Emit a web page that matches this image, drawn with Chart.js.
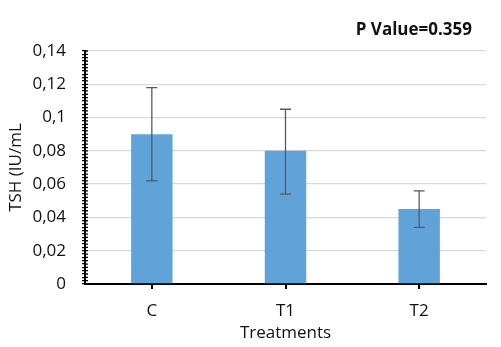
<!DOCTYPE html>
<html><head><meta charset="utf-8">
<script src="https://cdn.jsdelivr.net/npm/chart.js@4/dist/chart.umd.min.js"></script>
<style>html,body{margin:0;padding:0;background:#fff;}#wrap{width:501px;height:347px;}</style>
</head><body><div id="wrap"><canvas id="c" width="501" height="347"></canvas></div>
<script>
const categories = ['C', 'T1', 'T2'];
const tshMeans = [0.09, 0.08, 0.045];
const errLow = [0.062, 0.054, 0.034];
const errHigh = [0.118, 0.105, 0.056];
const yMax = 0.14;
const yMajorStep = 0.02;
const yMinorStep = 0.002;
const pValueText = 'P Value=0.359';
const yTitle = 'TSH (IU/mL';
const xTitle = 'Treatments';

const FONT = "'Open Sans', sans-serif";
const isMajor = v => Math.abs(v / yMajorStep - Math.round(v / yMajorStep)) < 1e-6;

const errorBars = {
  id: 'errorBars',
  afterDatasetsDraw(chart) {
    const {ctx, scales: {y}} = chart;
    const meta = chart.getDatasetMeta(0);
    ctx.save();
    ctx.strokeStyle = '#595959';
    ctx.lineWidth = 1.3;
    meta.data.forEach((bar, i) => {
      const cx = bar.x;
      const yl = y.getPixelForValue(errLow[i]);
      const yh = y.getPixelForValue(errHigh[i]);
      const cap = 5.5;
      ctx.beginPath();
      ctx.moveTo(cx, yl); ctx.lineTo(cx, yh);
      ctx.moveTo(cx - cap, yl); ctx.lineTo(cx + cap, yl);
      ctx.moveTo(cx - cap, yh); ctx.lineTo(cx + cap, yh);
      ctx.stroke();
    });
    ctx.restore();
  }
};

const innerTicks = {
  id: 'innerTicks',
  afterDraw(chart) {
    const {ctx, scales: {y}, chartArea} = chart;
    ctx.save();
    ctx.strokeStyle = '#000';
    ctx.lineWidth = 1.3;
    ctx.beginPath();
    y.ticks.forEach(t => {
      const py = y.getPixelForValue(t.value);
      ctx.moveTo(chartArea.left, py); ctx.lineTo(chartArea.left + 3, py);
    });
    ctx.stroke();
    ctx.restore();
  }
};

const pLabel = {
  id: 'pLabel',
  afterDraw(chart) {
    const {ctx, chartArea} = chart;
    ctx.save();
    ctx.font = "bold 17px " + FONT;
    ctx.fillStyle = '#111';
    ctx.textAlign = 'right';
    ctx.textBaseline = 'middle';
    ctx.fillText(pValueText, chartArea.right - 14, 30);
    ctx.restore();
  }
};

new Chart(document.getElementById('c'), {
  type: 'bar',
  data: {
    labels: categories,
    datasets: [{
      data: tshMeans,
      backgroundColor: '#5fa3d8',
      barPercentage: 0.31,
      categoryPercentage: 1
    }]
  },
  plugins: [errorBars, innerTicks, pLabel],
  options: {
    responsive: false,
    animation: false,
    devicePixelRatio: 1,
    layout: {padding: {top: 51, right: 15, left: 0, bottom: 0}},
    plugins: {legend: {display: false}, tooltip: {enabled: false}, title: {display: false}},
    scales: {
      x: {
        afterFit(s) { s.height = 63; },
        grid: {offset: false, drawOnChartArea: false, drawTicks: true, tickLength: 5, color: '#000', lineWidth: 2},
        border: {display: true, color: '#000', width: 2},
        ticks: {color: '#111', font: {family: FONT, size: 17}, padding: 12},
        title: {display: true, text: xTitle, color: '#111', font: {family: FONT, size: 17}, padding: {top: 0, bottom: 4}}
      },
      y: {
        min: 0, max: yMax,
        afterFit(s) { s.width = 85; },
        afterBuildTicks(s) {
          const t = [];
          for (let k = 0; k <= Math.round(yMax / yMinorStep); k++) t.push({value: Math.round(k * yMinorStep * 1000) / 1000});
          s.ticks = t;
        },
        grid: {
          drawTicks: true, tickLength: 3,
          color: ctx => (ctx.tick && isMajor(ctx.tick.value) && ctx.tick.value > 0) ? '#d9d9d9' : 'rgba(0,0,0,0)',
          tickColor: '#000',
          lineWidth: 1.3
        },
        border: {display: true, color: '#000', width: 2},
        ticks: {
          autoSkip: false,
          color: '#111', font: {family: FONT, size: 17}, padding: 16,
          callback: v => isMajor(v) ? String(Math.round(v * 100) / 100).replace('.', ',') : ''
        },
        title: {display: true, text: yTitle, color: '#111', font: {family: FONT, size: 17}, padding: {top: 6, bottom: 0}}
      }
    }
  }
});
</script></body></html>
